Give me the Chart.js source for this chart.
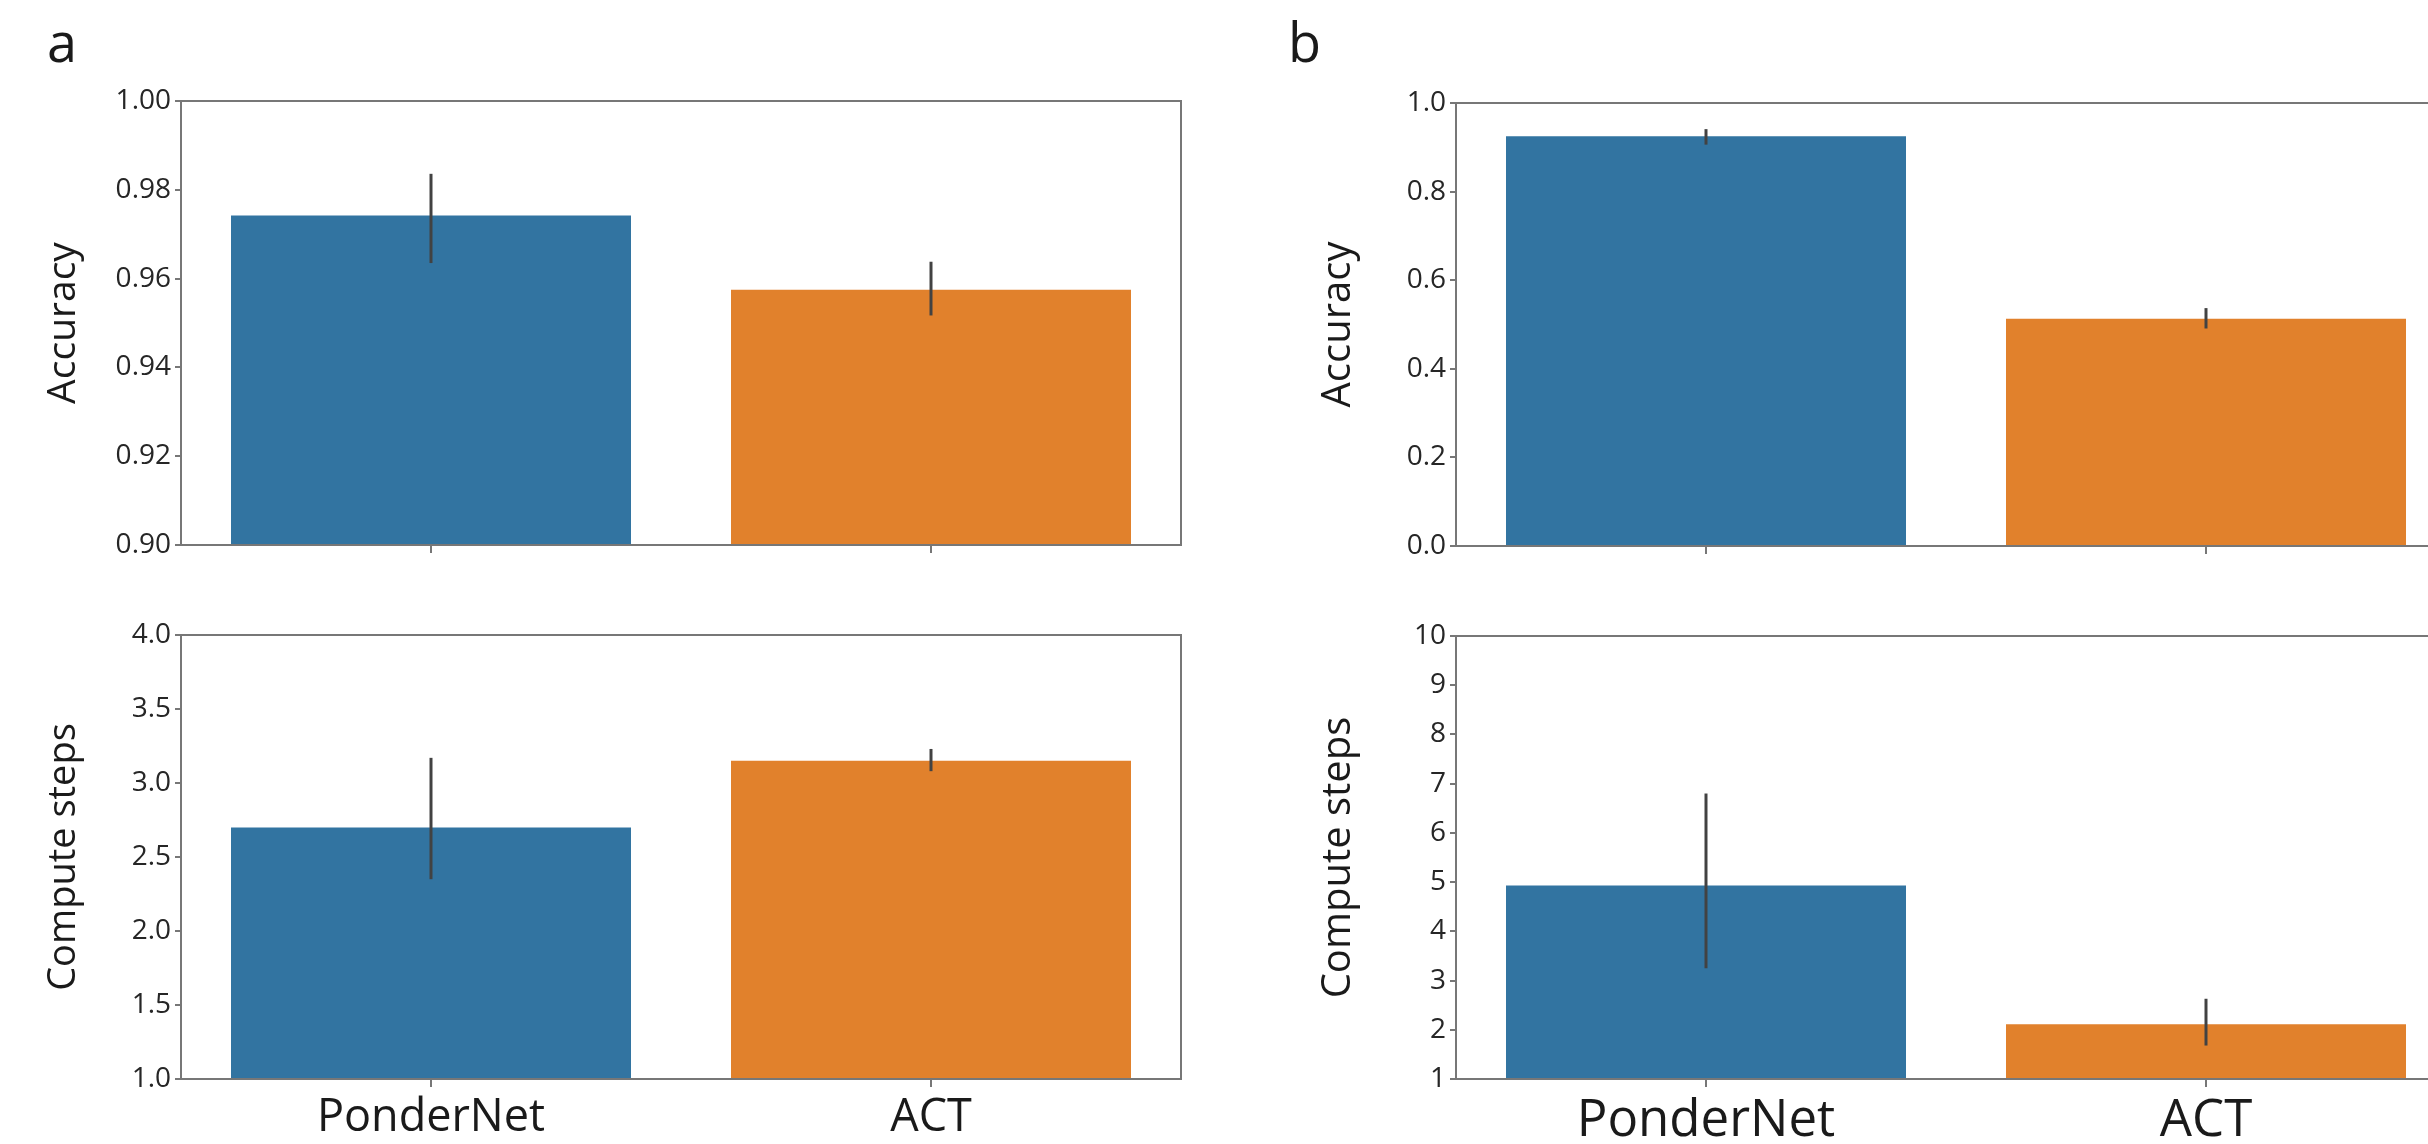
<!DOCTYPE html>
<html>
<head>
<meta charset="utf-8">
<script src="https://cdn.jsdelivr.net/npm/chart.js@4.4.1/dist/chart.umd.min.js"></script>
<style>
html, body { margin: 0; padding: 0; background: #fff; width: 2428px; height: 1144px; overflow: hidden; position: relative; }
canvas { position: absolute; }
.letter { position: absolute; font-family: "Open Sans", sans-serif; font-size: 54px; line-height: 1; color: #1a1a1a; }
</style>
</head>
<body>
<div class="letter" style="left:47px;top:14px">a</div>
<div class="letter" style="left:1288px;top:14px">b</div>
<canvas id="aAcc"></canvas>
<canvas id="aSteps"></canvas>
<canvas id="bAcc"></canvas>
<canvas id="bSteps"></canvas>
<script>
// data
const categories = ['PonderNet', 'ACT'];

const aAccuracy = [0.9742, 0.9575];
const aAccuracyLow = [0.9635, 0.9517];
const aAccuracyHigh = [0.9836, 0.9638];
const aAccuracyTicks = [0.90, 0.92, 0.94, 0.96, 0.98, 1.00];

const aSteps = [2.70, 3.15];
const aStepsLow = [2.35, 3.08];
const aStepsHigh = [3.17, 3.23];
const aStepsTicks = [1.0, 1.5, 2.0, 2.5, 3.0, 3.5, 4.0];

const bAccuracy = [0.925, 0.513];
const bAccuracyLow = [0.906, 0.491];
const bAccuracyHigh = [0.941, 0.537];
const bAccuracyTicks = [0.0, 0.2, 0.4, 0.6, 0.8, 1.0];

const bSteps = [4.93, 2.11];
const bStepsLow = [3.25, 1.68];
const bStepsHigh = [6.80, 2.63];
const bStepsTicks = [1, 2, 3, 4, 5, 6, 7, 8, 9, 10];

const barColors = ['#3274a1', '#e1812c'];
const spineColor = '#777';
const textColor = '#1a1a1a';

Chart.defaults.font.family = '"Open Sans", sans-serif';

const framePlugin = {
    id: 'frame',
    afterDatasetsDraw(chart) {
        const ca = chart.chartArea;
        const ctx = chart.ctx;
        ctx.save();
        ctx.strokeStyle = spineColor;
        ctx.lineWidth = 2;
        ctx.strokeRect(ca.left, ca.top, ca.right - ca.left, ca.bottom - ca.top);
        ctx.restore();
    }
};

function errorBarPlugin(low, high) {
    return {
        id: 'errorBars',
        afterDatasetsDraw(chart) {
            const meta = chart.getDatasetMeta(0);
            const y = chart.scales.y;
            const ctx = chart.ctx;
            ctx.save();
            ctx.strokeStyle = '#424242';
            ctx.lineWidth = 3;
            meta.data.forEach((bar, i) => {
                ctx.beginPath();
                ctx.moveTo(bar.x, y.getPixelForValue(low[i]));
                ctx.lineTo(bar.x, y.getPixelForValue(high[i]));
                ctx.stroke();
            });
            ctx.restore();
        }
    };
}

function makeChart(id, box, area, cfg) {
    const cv = document.getElementById(id);
    cv.width = box.width;
    cv.height = box.height;
    cv.style.left = box.left + 'px';
    cv.style.top = box.top + 'px';
    cv.style.width = box.width + 'px';
    cv.style.height = box.height + 'px';

    return new Chart(cv, {
        type: 'bar',
        data: {
            labels: categories,
            datasets: [{
                data: cfg.values,
                backgroundColor: barColors,
                borderWidth: 0,
                categoryPercentage: 1.0,
                barPercentage: 0.8
            }]
        },
        options: {
            responsive: false,
            animation: false,
            devicePixelRatio: 1,
            layout: {
                padding: {
                    left: 0,
                    top: area.top - box.top,
                    right: box.left + box.width - area.right,
                    bottom: 0
                }
            },
            plugins: {
                legend: { display: false },
                tooltip: { enabled: false }
            },
            scales: {
                x: {
                    grid: { offset: false, drawOnChartArea: false, tickLength: 8, color: spineColor, lineWidth: 2 },
                    border: { display: false },
                    ticks: { display: cfg.showLabels, color: textColor, font: { size: cfg.labelSize }, padding: 4 },
                    afterFit: s => { s.height = box.top + box.height - area.bottom; }
                },
                y: {
                    min: cfg.ticks[0],
                    max: cfg.ticks[cfg.ticks.length - 1],
                    afterBuildTicks: s => { s.ticks = cfg.ticks.map(v => ({ value: v })); },
                    grid: { drawOnChartArea: false, tickLength: 6, color: spineColor, lineWidth: 2 },
                    border: { display: false },
                    ticks: {
                        color: '#262626',
                        font: { size: 28 },
                        padding: 4,
                        callback: v => v.toFixed(cfg.decimals)
                    },
                    title: {
                        display: true,
                        text: cfg.title,
                        color: textColor,
                        font: { size: cfg.titleSize },
                        padding: { top: cfg.titleX - cfg.titleSize * 0.6, bottom: 0 }
                    },
                    afterFit: s => { s.width = area.left - box.left; }
                }
            }
        },
        plugins: [framePlugin, errorBarPlugin(cfg.low, cfg.high)]
    });
}

makeChart('aAcc',
    { left: 0, top: 0, width: 1220, height: 590 },
    { left: 181, top: 101, right: 1181, bottom: 545 },
    { values: aAccuracy, low: aAccuracyLow, high: aAccuracyHigh, ticks: aAccuracyTicks, decimals: 2,
      title: 'Accuracy', titleSize: 39, titleX: 64, showLabels: false, labelSize: 45 });

makeChart('aSteps',
    { left: 0, top: 590, width: 1220, height: 554 },
    { left: 181, top: 635, right: 1181, bottom: 1079 },
    { values: aSteps, low: aStepsLow, high: aStepsHigh, ticks: aStepsTicks, decimals: 1,
      title: 'Compute steps', titleSize: 38, titleX: 64, showLabels: true, labelSize: 45 });

makeChart('bAcc',
    { left: 1240, top: 0, width: 1240, height: 590 },
    { left: 1456, top: 103, right: 2456, bottom: 546 },
    { values: bAccuracy, low: bAccuracyLow, high: bAccuracyHigh, ticks: bAccuracyTicks, decimals: 1,
      title: 'Accuracy', titleSize: 40, titleX: 99, showLabels: false, labelSize: 51 });

makeChart('bSteps',
    { left: 1240, top: 590, width: 1240, height: 554 },
    { left: 1456, top: 636, right: 2456, bottom: 1079 },
    { values: bSteps, low: bStepsLow, high: bStepsHigh, ticks: bStepsTicks, decimals: 0,
      title: 'Compute steps', titleSize: 40, titleX: 99, showLabels: true, labelSize: 51 });
</script>
</body>
</html>
